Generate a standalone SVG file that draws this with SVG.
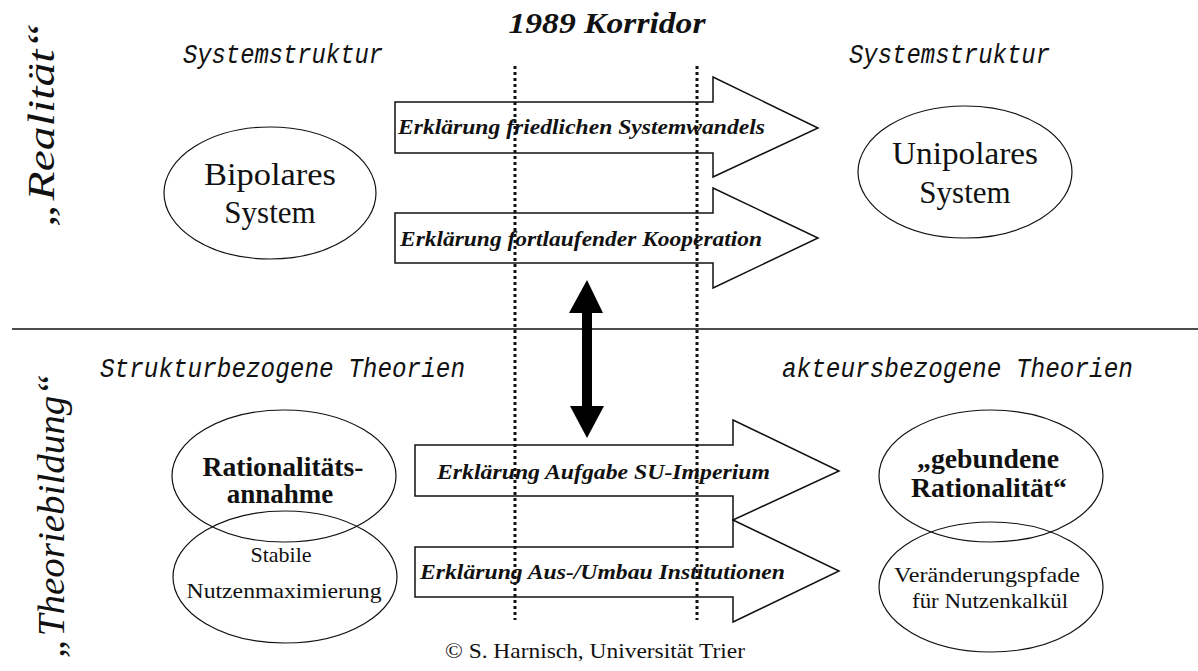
<svg xmlns="http://www.w3.org/2000/svg" width="1198" height="671" viewBox="0 0 1198 671">
<style>
.bg{fill:#fff}
.ell{fill:none;stroke:#111;stroke-width:1.2}
.arr{fill:none;stroke:#111;stroke-width:1.5}
.dot{stroke:#111;stroke-width:3;stroke-dasharray:3 3;fill:none}
.hd{font-family:"Liberation Mono",monospace;font-style:italic;font-size:27px;fill:#111}
.side{font-family:"Liberation Serif",serif;font-style:italic;font-size:38px;fill:#111}
.node{font-family:"Liberation Serif",serif;font-size:31px;fill:#111;text-anchor:middle}
.nodeb{font-family:"Liberation Serif",serif;font-weight:bold;font-size:27px;fill:#111;text-anchor:middle}
.small{font-family:"Liberation Serif",serif;font-size:22px;fill:#111;text-anchor:middle}
.lab{font-family:"Liberation Serif",serif;font-weight:bold;font-style:italic;font-size:22px;fill:#111}
</style>
<rect class="bg" x="0" y="0" width="1198" height="671"/>
<g id="headings">
<text x="607" y="33" font-family="Liberation Serif, serif" font-weight="bold" font-style="italic" font-size="30" text-anchor="middle" textLength="197" lengthAdjust="spacingAndGlyphs" fill="#111">1989 Korridor</text>
<text class="hd" x="183" y="63" textLength="200" lengthAdjust="spacingAndGlyphs">Systemstruktur</text>
<text class="hd" x="849" y="63" textLength="201" lengthAdjust="spacingAndGlyphs">Systemstruktur</text>
<text class="hd" x="100" y="377" textLength="365" lengthAdjust="spacingAndGlyphs">Strukturbezogene Theorien</text>
<text class="hd" x="782" y="377" textLength="351" lengthAdjust="spacingAndGlyphs">akteursbezogene Theorien</text>
<text class="side" transform="translate(54,125) rotate(-90)" text-anchor="middle" textLength="204" lengthAdjust="spacingAndGlyphs">„Realität“</text>
<text class="side" transform="translate(64,516) rotate(-90)" text-anchor="middle" textLength="284" lengthAdjust="spacingAndGlyphs">„Theoriebildung“</text>
<text x="595" y="658" font-family="Liberation Serif, serif" font-size="21" text-anchor="middle" textLength="300" lengthAdjust="spacingAndGlyphs" fill="#111">© S. Harnisch, Universität Trier</text>
</g>
<line x1="12" y1="329" x2="1198" y2="329" stroke="#111" stroke-width="1.5"/>
<g id="bipolar">
<ellipse class="ell" cx="270" cy="193" rx="106" ry="66"/>
<text class="node" x="270" y="185" textLength="132" lengthAdjust="spacingAndGlyphs">Bipolares</text>
<text class="node" x="270" y="223">System</text>
</g>
<g id="unipolar">
<ellipse class="ell" cx="965" cy="172" rx="107" ry="66"/>
<text class="node" x="965" y="164" textLength="146" lengthAdjust="spacingAndGlyphs">Unipolares</text>
<text class="node" x="965" y="203">System</text>
</g>
<g id="rationalitaet">
<ellipse class="ell" cx="284" cy="476" rx="112" ry="66"/>
<text class="nodeb" x="283" y="476" textLength="161" lengthAdjust="spacingAndGlyphs">Rationalitäts-</text>
<text class="nodeb" x="280" y="503">annahme</text>
</g>
<g id="stabile">
<ellipse class="ell" cx="285" cy="577" rx="112" ry="66"/>
<text class="small" x="281" y="562">Stabile</text>
<text class="small" x="284" y="598" textLength="195" lengthAdjust="spacingAndGlyphs">Nutzenmaximierung</text>
</g>
<g id="gebundene">
<ellipse class="ell" cx="991" cy="476" rx="112" ry="66"/>
<text class="nodeb" x="988" y="468" textLength="142" lengthAdjust="spacingAndGlyphs">„gebundene</text>
<text class="nodeb" x="989" y="497" textLength="156" lengthAdjust="spacingAndGlyphs">Rationalität“</text>
</g>
<g id="veraenderung">
<ellipse class="ell" cx="991" cy="587" rx="112" ry="65"/>
<text class="small" x="987" y="582" textLength="186" lengthAdjust="spacingAndGlyphs">Veränderungspfade</text>
<text class="small" x="990" y="608" textLength="156" lengthAdjust="spacingAndGlyphs">für Nutzenkalkül</text>
</g>
<g id="connectors">
<path id="a1" class="arr" d="M395,102 H713 V77 L818,128 L713,177 V153 H395 Z"/>
<path id="a2" class="arr" d="M395,213 H713 V188 L818,238 L713,288 V263 H395 Z"/>
<path id="a3" class="arr" d="M415,445 H733 V420 L839,471 L733,520 V496 H415 Z"/>
<path id="a4" class="arr" d="M415,547 H733 V520 L839,571 L733,622 V597 H415 Z"/>
<path id="dbl" d="M587,280 L603,313 L592,313 L592,406 L604,406 L587,438 L570,406 L582,406 L582,313 L569,313 Z" fill="#000"/>
<line class="dot" x1="515" y1="66" x2="515" y2="620"/>
<line class="dot" x1="697" y1="66" x2="697" y2="620"/>
</g>
<g id="arrow-labels">
<text class="lab" x="398" y="134" textLength="367" lengthAdjust="spacingAndGlyphs">Erklärung friedlichen Systemwandels</text>
<text class="lab" x="400" y="246" textLength="362" lengthAdjust="spacingAndGlyphs">Erklärung fortlaufender Kooperation</text>
<text class="lab" x="437" y="479" textLength="333" lengthAdjust="spacingAndGlyphs">Erklärung Aufgabe SU-Imperium</text>
<text class="lab" x="420" y="579" textLength="365" lengthAdjust="spacingAndGlyphs">Erklärung Aus-/Umbau Institutionen</text>
</g>
</svg>
